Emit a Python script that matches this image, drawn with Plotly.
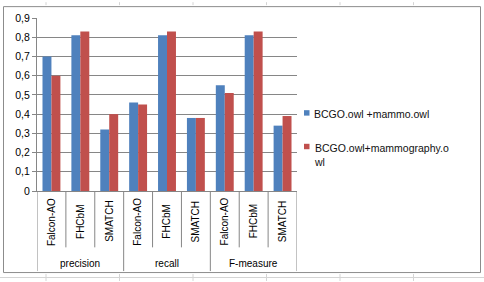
import plotly.graph_objects as go

groups = ["precision", "recall", "F-measure"]
tools = ["Falcon-AO", "FHCbM", "SMATCH"]
series_names = ["BCGO.owl +mammo.owl", "BCGO.owl+mammography.owl"]
series_labels = ["BCGO.owl +mammo.owl", "BCGO.owl+mammography.o<br>wl"]
series_a = [0.70, 0.81, 0.32, 0.46, 0.81, 0.38, 0.55, 0.81, 0.34]
series_b = [0.60, 0.83, 0.40, 0.45, 0.83, 0.38, 0.51, 0.83, 0.39]
colors = ["#4F81BD", "#C0504D"]
y_ticks = [0, 0.1, 0.2, 0.3, 0.4, 0.5, 0.6, 0.7, 0.8, 0.9]
y_tick_labels = ["0", "0,1", "0,2", "0,3", "0,4", "0,5", "0,6", "0,7", "0,8", "0,9"]

# geometry (pixels) of plot area
W, H = 484, 282
L, R, T, B = 37, 297, 16, 191
pw, ph = R - L, B - T

def px(xp):
    return (xp - L) / pw

def py(yp):
    return (B - yp) / ph

n = len(groups) * len(tools)
xs = list(range(n))
sub_labels = [t for g in groups for t in tools]

fig = go.Figure()
for vals, name, c in zip([series_a, series_b], series_names, colors):
    fig.add_trace(go.Bar(x=xs, y=vals, name=name, marker=dict(color=c, line=dict(width=0)),
                         showlegend=False))

shapes = []
annotations = []
axis_col = "#868686"
# category dividers
for i in range(n + 1):
    xv = i - 0.5
    is_group = (i % len(tools) == 0)
    shapes.append(dict(type="line", xref="x", yref="paper", x0=xv, x1=xv,
                       y0=0, y1=py(272 if is_group else 248),
                       line=dict(color=axis_col, width=1)))
for i, lab in enumerate(sub_labels):
    annotations.append(dict(x=i, y=py(222), xref="x", yref="paper", text=lab,
                            showarrow=False, textangle=-90,
                            xanchor="center", yanchor="middle",
                            font=dict(size=10, color="#000000")))
for gi, g in enumerate(groups):
    annotations.append(dict(x=gi * len(tools) + 1, y=py(264), xref="x", yref="paper",
                            text=g, showarrow=False,
                            xanchor="center", yanchor="middle",
                            font=dict(size=10, color="#000000")))

# chart border
shapes.append(dict(type="rect", xref="paper", yref="paper",
                   x0=px(3.5), x1=px(480.5), y0=py(273.5), y1=py(4.5),
                   line=dict(color="#8c8c8c", width=1)))
# spreadsheet gridlines peeking outside the chart
for xg in [46, 119.5, 193, 266.5, 340, 413.5]:
    shapes.append(dict(type="line", xref="paper", yref="paper", x0=px(xg), x1=px(xg),
                       y0=py(0), y1=py(3), line=dict(color="#d4d4d4", width=1)))
    shapes.append(dict(type="line", xref="paper", yref="paper", x0=px(xg), x1=px(xg),
                       y0=py(275), y1=py(282), line=dict(color="#d4d4d4", width=1)))
shapes.append(dict(type="line", xref="paper", yref="paper", x0=px(0), x1=px(484),
                   y0=py(278.5), y1=py(278.5), line=dict(color="#d4d4d4", width=1)))

# manual legend
leg_y = [112, 146]
for lab, c, yy in zip(series_labels, colors, leg_y):
    shapes.append(dict(type="rect", xref="paper", yref="paper",
                       x0=px(304), x1=px(309.5), y0=py(yy + 2.75), y1=py(yy - 2.75),
                       line=dict(width=0), fillcolor=c))
    annotations.append(dict(x=px(312), y=py(yy - 7), xref="paper", yref="paper",
                            text=lab, showarrow=False, xanchor="left", yanchor="top",
                            align="left",
                            font=dict(size=10.5, color="#111111")))

fig.update_layout(
    width=W, height=H,
    margin=dict(l=L, r=W - R, t=T, b=H - B),
    paper_bgcolor="white", plot_bgcolor="white",
    barmode="group", bargap=0.38, bargroupgap=0,
    font=dict(family="Liberation Sans, Arial, sans-serif", size=10, color="#000000"),
    xaxis=dict(range=[-0.5, n - 0.5], showticklabels=False, showgrid=False,
               zeroline=False, showline=True, linecolor=axis_col, ticks=""),
    yaxis=dict(range=[0, 0.9], tickvals=y_ticks, ticktext=y_tick_labels,
               showgrid=True, gridcolor=axis_col, gridwidth=1, zeroline=False,
               showline=True, linecolor=axis_col, ticks="outside", ticklen=4,
               tickcolor=axis_col, tickfont=dict(size=10.5, color="#000000")),
    shapes=shapes, annotations=annotations,
)

fig.write_html("out.html")
